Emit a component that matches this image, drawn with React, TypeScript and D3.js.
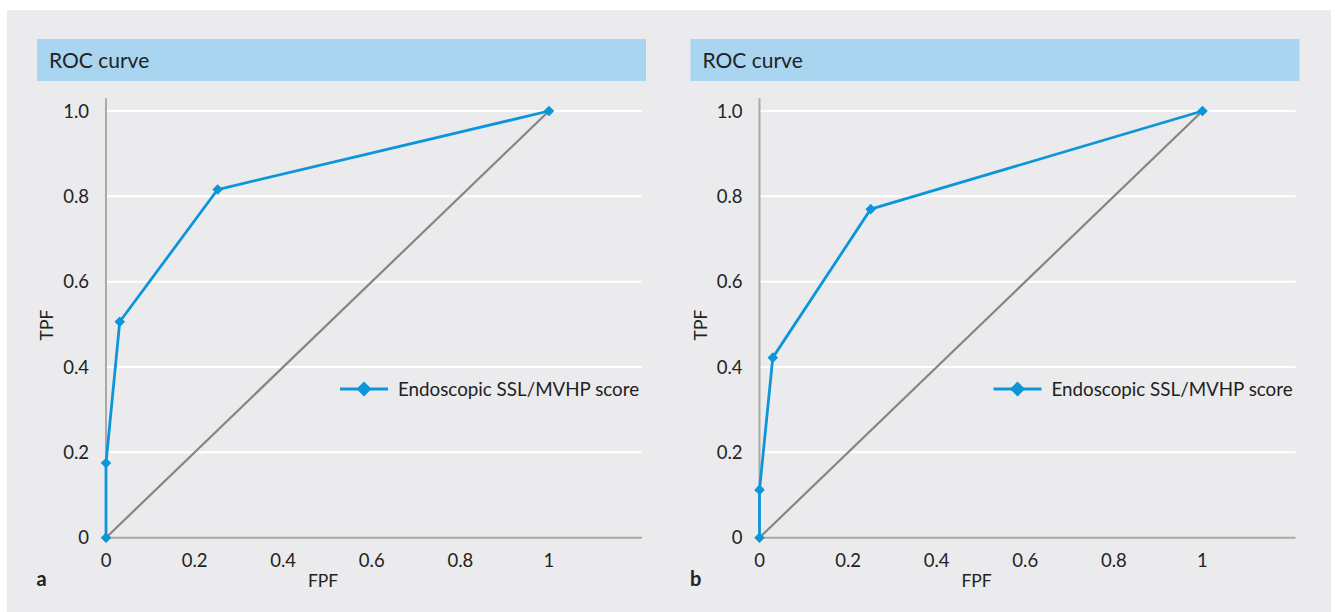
import React from 'react';
import * as d3 from 'd3';

// ROC points
const panelLabels = ['a', 'b'];
const fpfA = [0, 0, 0.031, 0.252, 1];
const tpfA = [0, 0.175, 0.506, 0.816, 1];
const fpfB = [0, 0, 0.03, 0.251, 1];
const tpfB = [0, 0.112, 0.422, 0.77, 1];
const xTicks = [0, 0.2, 0.4, 0.6, 0.8, 1];
const yTicks = [0, 0.2, 0.4, 0.6, 0.8, 1.0];
const seriesName = 'Endoscopic SSL/MVHP score';
const chartTitle = 'ROC curve';

const FONT = 'Lato, "Open Sans", sans-serif';
const BLUE = '#0c96d9';
const TEXT = '#222';

const Panel = ({ dx, label, fpf, tpf }) => {
  const x = d3.scaleLinear().domain([0, 1.21]).range([106 + dx, 642 + dx]);
  const y = d3.scaleLinear().domain([0, 1.03]).range([537.7, 98.2]);
  const pts = fpf.map((f, i) => [f, tpf[i]]);
  const line = d3.line().x(d => x(d[0])).y(d => y(d[1]));
  const diamond = d3.symbol(d3.symbolSquare, 56)();
  const bigDiamond = d3.symbol(d3.symbolSquare, 112)();

  return (
    <g>
      <rect x={37 + dx} y={39} width={609} height={42} fill="#a9d5f0" />
      <text x={49 + dx} y={67.5} fontSize={21} fill={TEXT}>{chartTitle}</text>

      {/* grid */}
      {yTicks.filter(t => t > 0).map(t => (
        <line key={t} x1={x(0)} x2={x(1.21)} y1={y(t)} y2={y(t)} stroke="#fff" strokeWidth={2} />
      ))}
      {/* axes */}
      <line x1={x(0)} x2={x(0)} y1={y(0)} y2={y(1.03)} stroke="#a9a9a9" strokeWidth={2} />
      <line x1={x(0)} x2={x(1.21)} y1={y(0)} y2={y(0)} stroke="#a9a9a9" strokeWidth={2} />

      {yTicks.map(t => (
        <text key={t} x={x(0) - 17} y={y(t) + 6.5} textAnchor="end" fontSize={18.5} fill={TEXT}>
          {t === 0 ? '0' : d3.format('.1f')(t)}
        </text>
      ))}
      {xTicks.map(t => (
        <text key={t} x={x(t)} y={567} textAnchor="middle" fontSize={18.5} fill={TEXT}>
          {t === 0 || t === 1 ? String(t) : d3.format('.1f')(t)}
        </text>
      ))}

      <text x={x(0.49)} y={587} textAnchor="middle" fontSize={17.5} fill={TEXT}>FPF</text>
      <text transform={`translate(${53 + dx},325) rotate(-90)`} textAnchor="middle" fontSize={17.5} fill={TEXT}>TPF</text>
      <text x={36.5 + dx} y={586} fontSize={20} fontWeight="bold" fill={TEXT}>{label}</text>

      {/* chance diagonal */}
      <line x1={x(0)} y1={y(0)} x2={x(1)} y2={y(1)} stroke="#858585" strokeWidth={2.2} />

      <path d={line(pts)} fill="none" stroke={BLUE} strokeWidth={2.8} strokeLinejoin="round" />
      {pts.map((p, i) => (
        <path key={i} d={diamond} fill={BLUE} transform={`translate(${x(p[0])},${y(p[1])}) rotate(45)`} />
      ))}

      {/* legend */}
      <line x1={340 + dx} x2={388 + dx} y1={389} y2={389} stroke={BLUE} strokeWidth={2.8} />
      <path d={bigDiamond} fill={BLUE} transform={`translate(${364 + dx},389) rotate(45)`} />
      <text x={398 + dx} y={395.5} fontSize={18.8} fill={TEXT}>{seriesName}</text>
    </g>
  );
};

export default function App() {
  return (
    <div style={{ position: 'absolute', left: 0, top: 0 }}>
      <svg width={1336} height={612} style={{ display: 'block', fontFamily: FONT }}>
        <rect width={1336} height={612} fill="#fff" />
        <rect x={7} y={10} width={1324} height={602} fill="#ebebed" />
        <Panel dx={0} label={panelLabels[0]} fpf={fpfA} tpf={tpfA} />
        <Panel dx={653.5} label={panelLabels[1]} fpf={fpfB} tpf={tpfB} />
      </svg>
    </div>
  );
}
